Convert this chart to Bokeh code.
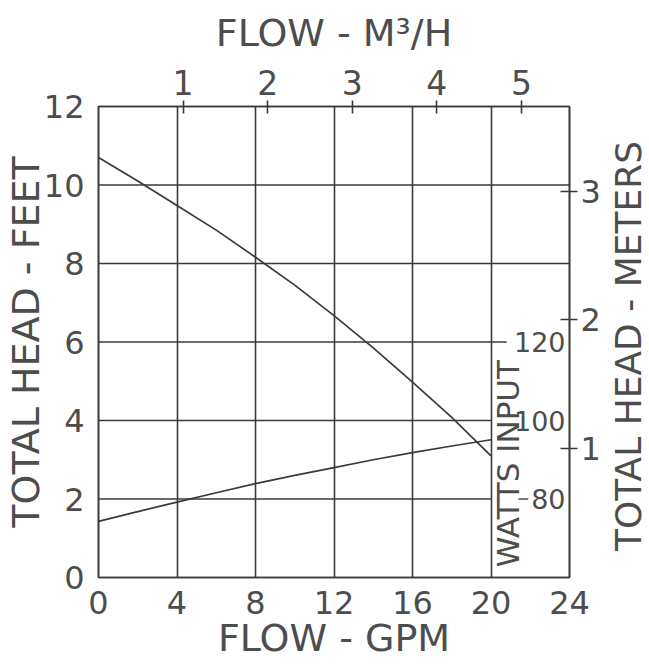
import math
from bokeh.plotting import figure
from bokeh.layouts import row
from bokeh.models import Range1d, LinearAxis, FixedTicker, ColumnDataSource
from bokeh.embed import file_html
from bokeh.resources import INLINE
from bokeh.core.properties import value

# ---- data ----
gpm_ticks = [0, 4, 8, 12, 16, 20, 24]
feet_ticks = [0, 2, 4, 6, 8, 10, 12]
m3h_ticks = [1, 2, 3, 4, 5]
meter_ticks = [1, 2, 3]
watt_ticks = [80, 100, 120]
watt_tick_labels = ["80", "100", "120"]

head_gpm = [0, 2, 4, 6, 8, 10, 12, 14, 16, 18, 20]
head_ft = [10.7, 10.1, 9.48, 8.85, 8.16, 7.45, 6.67, 5.85, 4.98, 4.08, 3.1]

watt_gpm = [0, 2, 4, 6, 8, 10, 12, 14, 16, 18, 20]
watt_val = [74.3, 76.8, 79.2, 81.6, 83.9, 86.0, 88.0, 90.0, 91.8, 93.5, 95.1]

grid_ft = [2, 4, 6, 8, 10]
grid_gpm_end = [20, 20, 20.8, 24, 24]

GPM_PER_M3H = 4.31          # as drawn on the reference's top scale
M_PER_FT = 0.3048
WATT_AT_ZERO_FT = 60
WATT_PER_FT = 10
WATTS_LABEL_AT = 89
RIGHT_TITLE_FT = 5.9
RIGHT_TITLE_X = 0.54

LINE = "#3a3a3a"
TXT = "#4d4d4d"
FONT = "DejaVu Sans"

x_max = gpm_ticks[-1]
y_max = feet_ticks[-1]

p = figure(
    x_range=Range1d(0, x_max), y_range=Range1d(0, y_max),
    frame_width=471, frame_height=471,
    min_border_left=90, min_border_right=31, min_border_top=106, min_border_bottom=80,
    output_backend="svg", toolbar_location=None,
    background_fill_color="white", border_fill_color="white",
)
p.outline_line_color = LINE
p.outline_line_width = 1.6

p.extra_x_ranges = {"m3h": Range1d(0, x_max / GPM_PER_M3H)}
p.extra_y_ranges = {
    "m": Range1d(0, y_max * M_PER_FT),
    "watts": Range1d(WATT_AT_ZERO_FT, WATT_AT_ZERO_FT + WATT_PER_FT * y_max),
}

# grids
p.xgrid.ticker = FixedTicker(ticks=gpm_ticks[1:-1])
p.xgrid.grid_line_color = LINE
p.xgrid.grid_line_width = 1.6
p.ygrid.visible = False
p.segment(x0=[0] * len(grid_ft), y0=grid_ft, x1=grid_gpm_end, y1=grid_ft,
          line_color=LINE, line_width=1.6)


def style_axis(ax, tick_size="32px"):
    ax.major_label_text_font = FONT
    ax.major_label_text_font_size = tick_size
    ax.major_label_text_color = TXT
    ax.axis_label_text_font = FONT
    ax.axis_label_text_font_size = "38px"
    ax.axis_label_text_color = TXT
    ax.axis_label_text_font_style = "normal"
    ax.minor_tick_line_color = None
    ax.axis_line_color = LINE
    ax.axis_line_width = 1.6
    ax.major_tick_line_color = LINE
    ax.major_tick_line_width = 1.6


# bottom axis
xa = p.xaxis[0]
xa.ticker = FixedTicker(ticks=gpm_ticks)
xa.axis_label = "FLOW - GPM"
style_axis(xa)
xa.major_tick_in = 0
xa.major_tick_out = 0
xa.major_label_standoff = 13
xa.axis_label_standoff = -1

# left axis
ya = p.yaxis[0]
ya.ticker = FixedTicker(ticks=feet_ticks)
ya.axis_label = "TOTAL HEAD - FEET"
style_axis(ya)
ya.major_tick_in = 0
ya.major_tick_out = 0
ya.major_label_standoff = 14
ya.axis_label_standoff = -7

# top axis (m3/h)
ta = LinearAxis(x_range_name="m3h", ticker=FixedTicker(ticks=m3h_ticks),
                axis_label="FLOW - M³/H")
style_axis(ta, tick_size="33px")
ta.major_tick_in = 7
ta.major_tick_out = 6
ta.major_label_standoff = 6
ta.axis_label_standoff = 12
p.add_layout(ta, "above")

# right axis (meters)
ra = LinearAxis(y_range_name="m", ticker=FixedTicker(ticks=meter_ticks))
style_axis(ra)
ra.major_tick_in = 9
ra.major_tick_out = 8
ra.major_label_standoff = 3
p.add_layout(ra, "right")

# curves
p.line(head_gpm, head_ft, line_color=LINE, line_width=1.7)
p.line(watt_gpm, watt_val, y_range_name="watts", line_color=LINE, line_width=1.7)

# watts input scale drawn on the 20 GPM line
wsrc = ColumnDataSource(dict(x=[x_max] * len(watt_ticks), y=watt_ticks, t=watt_tick_labels))
p.text(x="x", y="y", text="t", source=wsrc, y_range_name="watts",
       text_align="right", text_baseline="middle", x_offset=-4,
       text_font=value(FONT), text_font_size="27px", text_color=TXT)
p.segment(x0=[21.4], y0=[watt_ticks[0]], x1=[21.9], y1=[watt_ticks[0]],
          y_range_name="watts", line_color=TXT, line_width=1.6)
p.text(x=[gpm_ticks[-2]], y=[WATTS_LABEL_AT], text=["WATTS INPUT"], y_range_name="watts",
       angle=math.pi / 2, text_align="center", text_baseline="middle", x_offset=17,
       text_font=value(FONT), text_font_size="31px", text_color=TXT)

# narrow strip on the right carrying the meters title (reads bottom-to-top)
p2 = figure(
    x_range=Range1d(0, 1), y_range=p.y_range,
    frame_width=47, frame_height=471,
    min_border_left=0, min_border_right=0, min_border_top=106, min_border_bottom=80,
    x_axis_type=None, y_axis_type=None,
    output_backend="svg", toolbar_location=None,
    background_fill_color="white", border_fill_color="white",
)
p2.outline_line_color = None
p2.text(x=[RIGHT_TITLE_X], y=[RIGHT_TITLE_FT], text=["TOTAL HEAD - METERS"],
        angle=math.pi / 2, text_align="center", text_baseline="middle",
        text_font=value(FONT), text_font_size="36px", text_color=TXT)

layout = row(p, p2, spacing=0)
open("out.html", "w").write(file_html(layout, INLINE))
